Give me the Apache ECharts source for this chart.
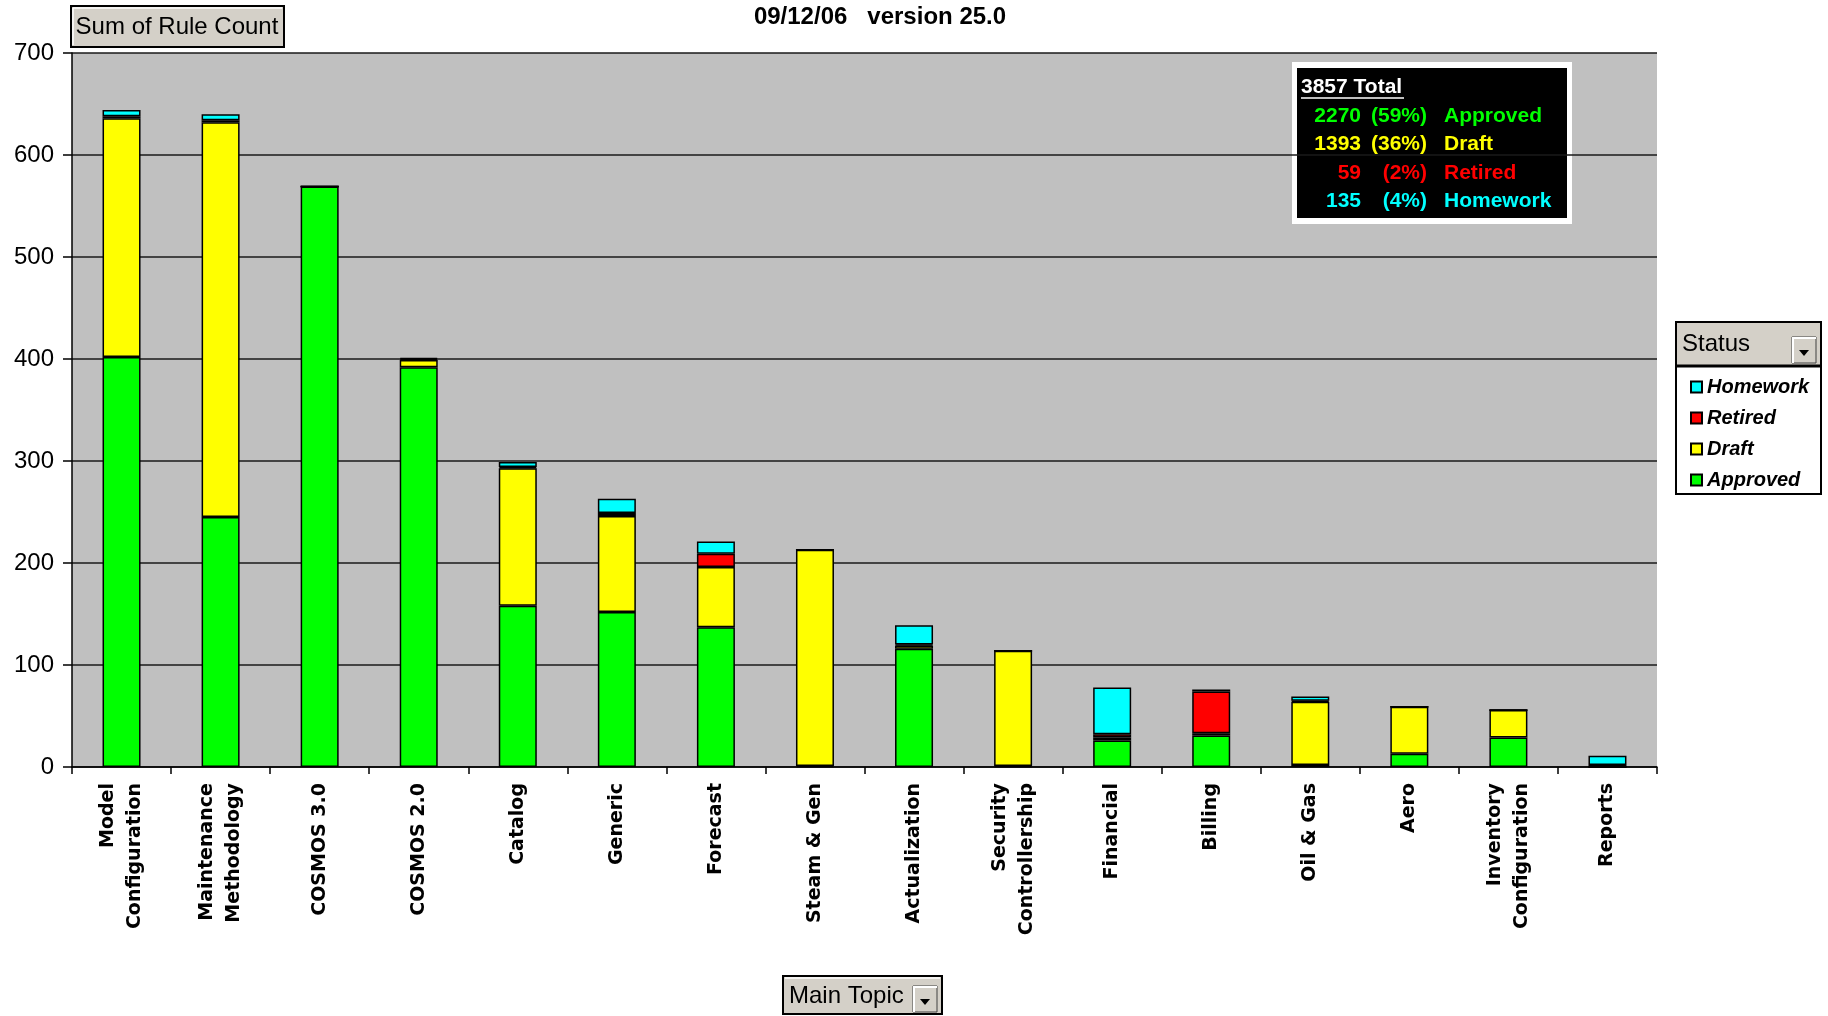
<!DOCTYPE html>
<html>
<head>
<meta charset="utf-8">
<title>Sum of Rule Count</title>
<script src="https://cdn.jsdelivr.net/npm/echarts@6/dist/echarts.min.js"></script>
<style>
    html, body { margin: 0; padding: 0; background: #fff; }
    #main { width: 1828px; height: 1016px; }
</style>
</head>
<body>
<div id="main"></div>
<script>
// categories (Main Topic)
var categories = ['Model\nConfiguration', 'Maintenance\nMethodology', 'COSMOS 3.0', 'COSMOS 2.0', 'Catalog', 'Generic',
    'Forecast', 'Steam & Gen', 'Actualization', 'Security\nControllership', 'Financial', 'Billing', 'Oil & Gas',
    'Aero', 'Inventory\nConfiguration', 'Reports'];

// rule count per status
var approved = [402, 245, 569, 392, 158, 152, 137, 1, 116, 1, 26, 31, 2, 13, 29, 0];
var draft    = [234, 387, 0, 7, 135, 94, 59, 212, 3, 113, 3, 2, 62, 46, 27, 0];
var retired  = [2, 2, 0, 1, 1, 3, 13, 0, 1, 0, 3, 41, 1, 0, 0, 2];
var homework = [6, 6, 0, 1, 5, 14, 12, 0, 19, 0, 46, 2, 4, 0, 0, 9];

// summary box text
var summaryTotal = 3857;
var summaryNames = ['Approved', 'Draft', 'Retired', 'Homework'];
var summaryCounts = [2270, 1393, 59, 135];
var summaryPercents = ['(59%)', '(36%)', '(2%)', '(4%)'];

var statusColors = {Approved: '#00ff00', Draft: '#ffff00', Retired: '#ff0000', Homework: '#00ffff'};
var btnGray = '#d4d0c8';
var fontFam = "'Liberation Sans', Arial, sans-serif";

var myChart = echarts.init(document.getElementById('main'));

function makeSeries(name, data) {
    return {
        name: name,
        type: 'bar',
        stack: 'total',
        barWidth: 38,
        data: data,
        itemStyle: {
            color: statusColors[name],
            borderColor: '#000',
            borderWidth: 1.5
        }
    };
}

// 下拉按钮
function dropButton(x, y, w, h) {
    var cx = x + w / 2, cy = y + h / 2 + 3;
    return [
        {type: 'rect', shape: {x: x, y: y, width: w, height: h}, style: {fill: btnGray, stroke: '#404040', lineWidth: 1}},
        {type: 'line', shape: {x1: x, y1: y + 1, x2: x + w, y2: y + 1}, style: {stroke: '#fff', lineWidth: 2}},
        {type: 'line', shape: {x1: x + 1, y1: y, x2: x + 1, y2: y + h}, style: {stroke: '#fff', lineWidth: 2}},
        {type: 'polygon', shape: {points: [[cx - 5, cy - 3], [cx + 5, cy - 3], [cx, cy + 3]]}, style: {fill: '#000'}}
    ];
}

function txt(x, y, text, font, color, align, valign) {
    return {
        type: 'text',
        x: x,
        y: y,
        style: {
            text: text,
            font: font,
            fill: color,
            align: align || 'left',
            verticalAlign: valign || 'middle'
        }
    };
}

var graphics = [];

// Sum of Rule Count button
graphics.push({type: 'rect', shape: {x: 71, y: 6, width: 213, height: 41}, style: {fill: btnGray, stroke: '#000', lineWidth: 2}});
graphics.push({type: 'line', shape: {x1: 73, y1: 8, x2: 282, y2: 8}, style: {stroke: '#fff', lineWidth: 1.5}});
graphics.push({type: 'line', shape: {x1: 73, y1: 8, x2: 73, y2: 45}, style: {stroke: '#fff', lineWidth: 1.5}});
graphics.push(txt(177, 27, 'Sum of Rule Count', '24px ' + fontFam, '#000', 'center'));

// title
graphics.push(txt(880, 17, '09/12/06   version 25.0', 'bold 24px ' + fontFam, '#000', 'center'));

// summary box
graphics.push({type: 'rect', shape: {x: 1292, y: 62, width: 280, height: 162}, style: {fill: '#fff'}});
graphics.push({type: 'rect', shape: {x: 1297, y: 68, width: 270, height: 150}, style: {fill: '#000'}});
graphics.push(txt(1301, 87, summaryTotal + ' Total', 'bold 21px ' + fontFam, '#fff', 'left'));
graphics.push({type: 'line', shape: {x1: 1301, y1: 98, x2: 1404, y2: 98}, style: {stroke: '#fff', lineWidth: 1.5}});
summaryNames.forEach(function (name, i) {
    var y = 116 + i * 28.5;
    var c = statusColors[name];
    graphics.push(txt(1361, y, String(summaryCounts[i]), 'bold 21px ' + fontFam, c, 'right'));
    graphics.push(txt(1427, y, summaryPercents[i], 'bold 21px ' + fontFam, c, 'right'));
    graphics.push(txt(1444, y, name, 'bold 21px ' + fontFam, c, 'left'));
});

// Status legend frame
graphics.push({type: 'rect', shape: {x: 1676, y: 322, width: 145, height: 172}, style: {fill: '#fff', stroke: '#000', lineWidth: 2}});
graphics.push({type: 'rect', shape: {x: 1677, y: 323, width: 143, height: 42}, style: {fill: btnGray}});
graphics.push({type: 'line', shape: {x1: 1676, y1: 366, x2: 1821, y2: 366}, style: {stroke: '#000', lineWidth: 3}});
graphics.push(txt(1682, 344, 'Status', '24px ' + fontFam, '#000', 'left'));
graphics = graphics.concat(dropButton(1792, 337, 24, 26));

// Main Topic button
graphics.push({type: 'rect', shape: {x: 783, y: 976, width: 159, height: 38}, style: {fill: btnGray, stroke: '#000', lineWidth: 2}});
graphics.push({type: 'line', shape: {x1: 785, y1: 978, x2: 940, y2: 978}, style: {stroke: '#fff', lineWidth: 1.5}});
graphics.push(txt(789, 996, 'Main Topic', '24px ' + fontFam, '#000', 'left'));
graphics = graphics.concat(dropButton(913, 986, 24, 26));

var option = {
    animation: false,
    backgroundColor: '#fff',
    grid: {
        left: 72,
        right: 171,
        top: 53,
        bottom: 249,
        show: true,
        backgroundColor: '#c0c0c0',
        borderWidth: 0
    },
    legend: {
        data: ['Homework', 'Retired', 'Draft', 'Approved'],
        orient: 'vertical',
        left: 1685,
        top: 372,
        icon: 'rect',
        itemWidth: 11,
        itemHeight: 11,
        itemGap: 11,
        selectedMode: false,
        textStyle: {
            fontFamily: fontFam,
            fontWeight: 'bold',
            fontStyle: 'italic',
            fontSize: 20,
            color: '#000'
        }
    },
    xAxis: {
        type: 'category',
        data: categories,
        axisLine: {lineStyle: {color: '#000', width: 1.5}},
        axisTick: {show: true, length: 7, lineStyle: {color: '#000', width: 1.5}},
        axisLabel: {
            interval: 0,
            rotate: 90,
            margin: 16,
            fontFamily: "'DejaVu Sans', sans-serif",
            fontWeight: 'bold',
            fontSize: 19,
            lineHeight: 27,
            color: '#000'
        }
    },
    yAxis: {
        type: 'value',
        min: 0,
        max: 700,
        interval: 100,
        axisLine: {show: true, lineStyle: {color: '#000', width: 1.5}},
        axisTick: {show: true, length: 9, lineStyle: {color: '#000', width: 1.5}},
        axisLabel: {
            margin: 18,
            fontFamily: fontFam,
            fontSize: 24,
            color: '#000'
        },
        splitLine: {lineStyle: {color: '#1a1a1a', width: 1.5}}
    },
    series: [
        makeSeries('Approved', approved),
        makeSeries('Draft', draft),
        makeSeries('Retired', retired),
        makeSeries('Homework', homework)
    ],
    graphic: graphics
};

myChart.setOption(option);
window.onresize = myChart.resize;
</script>
</body>
</html>
